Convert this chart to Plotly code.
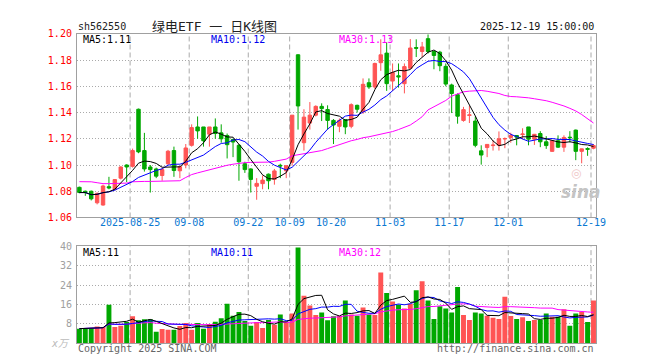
import plotly.graph_objects as go
import pandas as pd

# ---------------- data ----------------
opens = [1.0830, 1.0800, 1.0800, 1.0712, 1.0695, 1.0835, 1.0815, 1.0900, 1.1000, 1.0990,
         1.1425, 1.1110, 1.0985, 1.0970, 1.0920, 1.1010, 1.1110, 1.0956, 1.1000, 1.1150,
         1.1290, 1.1290, 1.1235, 1.1290, 1.1245, 1.1225, 1.1195, 1.1150, 1.1010, 1.0970,
         1.0838, 1.0858, 1.0930, 1.0890, 1.0998, 1.0955, 1.1020, 1.1840, 1.1170, 1.1320,
         1.1380, 1.1447, 1.1423, 1.1340, 1.1295, 1.1345, 1.1295, 1.1455, 1.1405, 1.1627,
         1.1595, 1.1780, 1.1853, 1.1640, 1.1680, 1.1620, 1.1737, 1.1895, 1.1865, 1.1963,
         1.1865, 1.1860, 1.1752, 1.1610, 1.1536, 1.1340, 1.1378, 1.1335, 1.1108, 1.1133,
         1.1148, 1.1150, 1.1198, 1.1210, 1.1225, 1.1232, 1.1290, 1.1197, 1.1240, 1.1177,
         1.1104, 1.1185, 1.1136, 1.1212, 1.1266, 1.1104, 1.1125, 1.1128]
highs = [1.0835, 1.0805, 1.0805, 1.0790, 1.0850, 1.0910, 1.0890, 1.0990, 1.1005, 1.1125,
         1.1430, 1.1245, 1.1000, 1.0980, 1.0980, 1.1115, 1.1140, 1.0990, 1.1160, 1.1310,
         1.1370, 1.1290, 1.1290, 1.1355, 1.1310, 1.1240, 1.1200, 1.1160, 1.1025, 1.0975,
         1.0900, 1.0920, 1.0935, 1.0970, 1.1010, 1.0995, 1.1380, 1.1845, 1.1425, 1.1480,
         1.1455, 1.1470, 1.1455, 1.1350, 1.1355, 1.1350, 1.1470, 1.1460, 1.1660, 1.1660,
         1.1780, 1.1958, 1.1935, 1.1774, 1.1774, 1.1774, 1.1960, 1.1958, 1.1938, 1.1995,
         1.1870, 1.1870, 1.1774, 1.1620, 1.1546, 1.1443, 1.1450, 1.1370, 1.1150, 1.1160,
         1.1187, 1.1256, 1.1210, 1.1246, 1.1228, 1.1280, 1.1290, 1.1236, 1.1258, 1.1220,
         1.1190, 1.1226, 1.1226, 1.1258, 1.1270, 1.1125, 1.1135, 1.1160]
lows = [1.0785, 1.0765, 1.0730, 1.0700, 1.0690, 1.0815, 1.0805, 1.0890, 1.0870, 1.0980,
        1.1090, 1.0950, 1.0790, 1.0900, 1.0880, 1.1000, 1.0910, 1.0900, 1.0975, 1.1140,
        1.1200, 1.1140, 1.1140, 1.1200, 1.1170, 1.1050, 1.1060, 1.0880, 1.0940, 1.0790,
        1.0735, 1.0815, 1.0815, 1.0850, 1.0900, 1.0900, 1.0995, 1.1270, 1.1110, 1.1270,
        1.1370, 1.1335, 1.1270, 1.1160, 1.1250, 1.1235, 1.1280, 1.1400, 1.1390, 1.1580,
        1.1580, 1.1718, 1.1565, 1.1565, 1.1590, 1.1546, 1.1730, 1.1823, 1.1823, 1.1850,
        1.1730, 1.1715, 1.1600, 1.1396, 1.1315, 1.1330, 1.1320, 1.1135, 1.1003, 1.1060,
        1.1110, 1.1110, 1.1128, 1.1170, 1.1150, 1.1197, 1.1150, 1.1153, 1.1136, 1.1123,
        1.1100, 1.1130, 1.1100, 1.1172, 1.1037, 1.1013, 1.1070, 1.1120]
closes = [1.0790, 1.0790, 1.0742, 1.0784, 1.0840, 1.0825, 1.0889, 1.0985, 1.0985, 1.1110,
          1.1100, 1.0970, 1.0965, 1.0915, 1.0965, 1.1105, 1.0958, 1.0988, 1.1130, 1.1285,
          1.1260, 1.1185, 1.1290, 1.1240, 1.1200, 1.1155, 1.1175, 1.1025, 1.0965, 1.0890,
          1.0860, 1.0885, 1.0880, 1.0955, 1.0993, 1.0995, 1.1380, 1.1450, 1.1365, 1.1380,
          1.1447, 1.1430, 1.1340, 1.1305, 1.1340, 1.1290, 1.1460, 1.1425, 1.1615, 1.1595,
          1.1774, 1.1840, 1.1620, 1.1705, 1.1672, 1.1750, 1.1892, 1.1890, 1.1900, 1.1865,
          1.1835, 1.1757, 1.1617, 1.1545, 1.1372, 1.1422, 1.1382, 1.1150, 1.1076, 1.1157,
          1.1152, 1.1200, 1.1202, 1.1226, 1.1212, 1.1236, 1.1197, 1.1234, 1.1177, 1.1148,
          1.1185, 1.1136, 1.1210, 1.1208, 1.1104, 1.1123, 1.1120, 1.1148]
volumes = [6.0, 6.0, 6.3, 6.9, 6.7, 15.9, 6.7, 7.2, 8.7, 11.1,
           9.5, 9.9, 9.9, 4.7, 5.9, 5.5, 5.5, 7.1, 8.3, 5.5,
           8.3, 6.0, 7.9, 8.9, 10.3, 16.3, 11.3, 12.9, 9.2, 7.2,
           8.7, 6.3, 9.6, 7.6, 11.9, 8.7, 12.3, 39.6, 19.6, 15.6,
           11.6, 12.7, 9.5, 11.1, 11.3, 17.6, 11.9, 11.3, 14.7, 11.9,
           11.6, 29.2, 20.7, 17.2, 15.9, 14.3, 16.3, 21.9, 25.6, 17.6,
           10.0, 15.3, 14.3, 12.7, 23.2, 11.6, 9.6, 12.7, 12.3, 11.3,
           10.5, 10.0, 19.2, 11.2, 10.0, 10.7, 9.2, 9.6, 9.6, 12.3,
           10.9, 10.9, 14.0, 7.2, 12.3, 12.9, 8.7, 17.6]
ma30_price = [1.0873, 1.0873, 1.0872, 1.0865, 1.0858, 1.0858, 1.0858, 1.0858, 1.0862, 1.0872,
              1.0875, 1.0875, 1.0875, 1.0876, 1.0877, 1.0878, 1.0878, 1.0880, 1.0905, 1.0927,
              1.0940, 1.0952, 1.0964, 1.0976, 1.0988, 1.0998, 1.1006, 1.1013, 1.1018, 1.1020,
              1.1020, 1.1020, 1.1022, 1.1028, 1.1035, 1.1045, 1.1070, 1.1078, 1.1086, 1.1094,
              1.1102, 1.1110, 1.1125, 1.1140, 1.1155, 1.1172, 1.1185, 1.1195, 1.1208, 1.1215,
              1.1225, 1.1232, 1.1240, 1.1255, 1.1270, 1.1285, 1.1305, 1.1335, 1.1368, 1.1420,
              1.1445, 1.1470, 1.1492, 1.1525, 1.1543, 1.1558, 1.1563, 1.1567, 1.1568, 1.1562,
              1.1555, 1.1545, 1.1530, 1.1522, 1.1520, 1.1518, 1.1512, 1.1505, 1.1498, 1.1490,
              1.1478, 1.1465, 1.1450, 1.1432, 1.1412, 1.1385, 1.1355, 1.1320]
tick_labels = ["2025-08-25", "09-08", "09-22", "10-09", "10-20", "11-03", "11-17", "12-01", "12-19"]
tick_idx = [9, 19, 29, 36, 43, 53, 63, 73, 87]
grid_idx = [9, 19, 29, 36, 53, 63, 73, 87]
price_ticks = [1.06, 1.08, 1.10, 1.12, 1.14, 1.16, 1.18, 1.20]
vol_ticks = [8, 16, 24, 32, 40]

# ---------------- styling ----------------
RED = "#FF5454"
GREEN = "#00A800"
FRAME = "#A0A0A0"
GRID = "#AAAAAA"
MONO = "DejaVu Sans Mono, Noto Sans CJK SC"
W, H = 660, 360
L_PX, R_PX = 70.0, 597.5
P_TOP, P_BOT = 20.5, 210.5
V_TOP, V_BOT = 240.5, 340.5
GRID_OFF = 0.42

n = len(closes)
xs = list(range(n))
cs = pd.Series(closes)
ma5 = cs.rolling(5, min_periods=1).mean()
ma10 = cs.rolling(10, min_periods=1).mean()
vs = pd.Series(volumes)
vma5 = vs.rolling(5, min_periods=1).mean()
vma10 = vs.rolling(10, min_periods=1).mean()
vma30 = vs.rolling(30, min_periods=1).mean()
bar_colors = [RED if c >= o else GREEN for o, c in zip(opens, closes)]


def px(xp):
    return xp / W


def py(yp):
    return 1 - yp / H


fig = go.Figure()
fig.add_trace(go.Candlestick(
    x=xs, open=opens, high=highs, low=lows, close=closes,
    increasing=dict(line=dict(color=RED, width=1), fillcolor=RED),
    decreasing=dict(line=dict(color=GREEN, width=1), fillcolor=GREEN),
    whiskerwidth=0, xaxis="x", yaxis="y", showlegend=False, hoverinfo="skip"))
for series, col in [(ma30_price, "#FF00FF"), (ma10, "#0000FF"), (ma5, "#000000")]:
    fig.add_trace(go.Scatter(x=xs, y=list(series), mode="lines", line=dict(color=col, width=1),
                             xaxis="x", yaxis="y", showlegend=False, hoverinfo="skip"))
fig.add_trace(go.Bar(x=xs, y=volumes, marker=dict(color=bar_colors, line=dict(width=0)),
                     xaxis="x2", yaxis="y2", showlegend=False, hoverinfo="skip"))
for series, col in [(vma30, "#FF00FF"), (vma10, "#0000FF"), (vma5, "#000000")]:
    fig.add_trace(go.Scatter(x=xs, y=list(series), mode="lines", line=dict(color=col, width=1),
                             xaxis="x2", yaxis="y2", showlegend=False, hoverinfo="skip"))

xrange = [-2.5 / 6, (R_PX - 72.5) / 6]
xdom = [px(L_PX), px(R_PX)]
common_x = dict(domain=xdom, range=xrange, showgrid=False, zeroline=False, showline=True,
                mirror=True, linecolor=FRAME, linewidth=1, ticks="", fixedrange=True)
fig.update_layout(
    width=W, height=H, margin=dict(l=0, r=0, t=0, b=0),
    paper_bgcolor="white", plot_bgcolor="white",
    boxgap=0.17, bargap=1 / 6,
    font=dict(family=MONO, size=10),
    xaxis=dict(**common_x, anchor="y", rangeslider=dict(visible=False),
               tickmode="array", tickvals=[i - GRID_OFF for i in tick_idx], ticktext=tick_labels,
               ticklabelstandoff=-4,
               tickfont=dict(color="#0A78D2", size=10, family=MONO)),
    yaxis=dict(domain=[py(P_BOT), py(P_TOP)], range=[1.06, 1.20], anchor="x",
               tickmode="array", tickvals=price_ticks, ticktext=[f"{t:.2f}" for t in price_ticks],
               tickfont=dict(color="#FF0000", size=10, family=MONO), ticks="",
               ticklabelstandoff=2,
               showgrid=True, gridcolor=GRID, gridwidth=1, griddash="1px,2px", zeroline=False,
               showline=True, mirror=True, linecolor=FRAME, linewidth=1, fixedrange=True),
    xaxis2=dict(**common_x, anchor="y2", showticklabels=False),
    yaxis2=dict(domain=[py(V_BOT), py(V_TOP)], range=[0, 40], anchor="x2",
                tickmode="array", tickvals=vol_ticks, ticktext=[str(t) for t in vol_ticks],
                tickfont=dict(color="#A0A0A0", size=10, family=MONO), ticks="",
                ticklabelstandoff=2,
                showgrid=True, gridcolor=GRID, gridwidth=1, griddash="1px,2px", zeroline=False,
                showline=True, mirror=True, linecolor=FRAME, linewidth=1, fixedrange=True),
)

shapes = []
for g in grid_idx:
    for xr, yr in [("x", "y domain"), ("x2", "y2 domain")]:
        shapes.append(dict(type="line", xref=xr, yref=yr, x0=g - GRID_OFF, x1=g - GRID_OFF,
                           y0=0, y1=1, line=dict(color=GRID, width=1, dash="5px,3px"),
                           layer="below"))
fig.update_layout(shapes=shapes)


def ann(text, xp, yp, xanchor="left", color="#000", size=10, family=MONO, **kw):
    fig.add_annotation(text=text, x=px(xp), y=py(yp), xref="paper", yref="paper",
                       xanchor=xanchor, yanchor="middle", showarrow=False,
                       font=dict(color=color, size=size, family=family, **kw))


ann("sh562550", 69.5, 13, color="#222")
ann("绿电ETF 一 日K线图", 210, 12.5, xanchor="center", color="#222", size=13)
ann("2025-12-19 15:00:00", 597.5, 13, xanchor="right", color="#111")
ann("MA5:1.11", 74, 26.5, color="#000")
ann("MA10:1.12", 204, 26.5, color="#0000EE")
ann("MA30:1.13", 334.5, 26.5, color="#FF00FF")
ann("MA5:11", 74, 246.5, color="#000")
ann("MA10:11", 204, 246.5, color="#0000EE")
ann("MA30:12", 334.5, 246.5, color="#FF00FF")
ann("Copyright 2025 SINA.COM", 69.5, 346, color="#666")
ann("http://finance.sina.com.cn", 597.5, 346, xanchor="right", color="#666")
ann("x万", 65, 341, xanchor="right", color="#BBBBBB", size=10, style="italic")
ann("sina", 582, 184, xanchor="center", color="#C4C4C4", size=17,
    family="DejaVu Sans", style="italic", weight="bold")
ann("◎", 577, 164, xanchor="center", color="#F0C8C8", size=12, family="DejaVu Sans")

fig.write_html("out.html")
